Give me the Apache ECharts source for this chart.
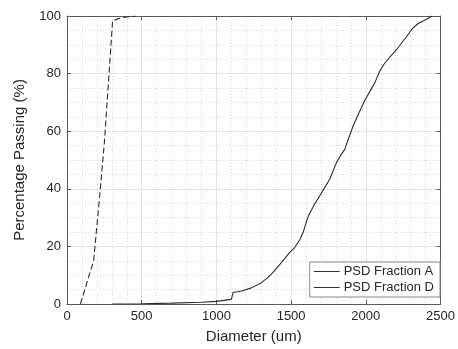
<!DOCTYPE html>
<html>
<head>
<meta charset="utf-8">
<script src="https://cdn.jsdelivr.net/npm/echarts@6/dist/echarts.min.js"></script>
<style>
html,body{margin:0;padding:0;background:#fff;}
#chart{width:458px;height:349px;}
</style>
</head>
<body>
<div id="chart"></div>
<script>
// Fraction A (solid)
var fracA_x = [300, 500, 700, 900, 1000, 1100, 1112, 1170, 1234, 1290, 1340, 1379, 1435, 1491, 1524, 1560, 1580, 1607, 1620, 1655, 1691, 1725, 1758, 1803, 1830, 1858, 1914, 1955, 1995, 2059, 2092, 2126, 2165, 2204, 2270, 2310, 2348, 2400, 2442];
var fracA_y = [0, 0.1, 0.3, 0.6, 0.9, 1.6, 4.0, 4.5, 5.6, 7.0, 9.0, 11.0, 14.4, 17.9, 19.6, 22.5, 24.8, 29.4, 31.1, 34.5, 37.5, 40.5, 43.3, 49.0, 51.5, 53.6, 61.7, 66.5, 70.9, 76.7, 80.7, 83.6, 86.0, 88.2, 92.7, 95.5, 97.3, 98.7, 100];
// Fraction D (dashed)
var fracD_x = [90, 125, 178, 216, 250, 275, 305, 360, 460];
var fracD_y = [0, 6, 15, 36, 56, 75, 98.3, 99.4, 100];

var xTicks = [0, 500, 1000, 1500, 2000, 2500];
var yTicks = [0, 20, 40, 60, 80, 100];

function pairs(xs, ys){ return xs.map(function(x,i){ return [x, ys[i]]; }); }

var FONT = 'Liberation Sans';
var axisCol = '#5a5a5a';
var chart = echarts.init(document.getElementById('chart'));
var baseX = {
  type: 'value', min: xTicks[0], max: xTicks[xTicks.length-1], interval: 500,
  axisLine: {show: true, onZero: false, lineStyle: {color: axisCol, width: 1}},
  axisTick: {show: true, inside: true, length: 4, lineStyle: {color: axisCol}},
  minorTick: {show: false, splitNumber: 5},
  minorSplitLine: {show: true, lineStyle: {color: '#d8d8d8', type: [1, 2], width: 1}},
  splitLine: {show: true, lineStyle: {color: '#e4e4e4', width: 1}}
};
var baseY = {
  type: 'value', min: yTicks[0], max: yTicks[yTicks.length-1], interval: 20,
  axisLine: {show: true, onZero: false, lineStyle: {color: axisCol, width: 1}},
  axisTick: {show: true, inside: true, length: 4, lineStyle: {color: axisCol}},
  minorTick: {show: false, splitNumber: 4},
  minorSplitLine: {show: true, lineStyle: {color: '#d8d8d8', type: [1, 2], width: 1}},
  splitLine: {show: true, lineStyle: {color: '#e4e4e4', width: 1}}
};
chart.setOption({
  animation: false,
  textStyle: {fontFamily: FONT},
  grid: {left: 67, right: 17, top: 16, bottom: 44, containLabel: false},
  xAxis: [
    Object.assign({}, baseX, {
      position: 'bottom',
      name: 'Diameter (um)', nameLocation: 'middle', nameGap: 25,
      nameTextStyle: {fontFamily: FONT, fontSize: 15, color: '#262626'},
      axisLabel: {fontFamily: FONT, fontSize: 13, color: '#262626', margin: 6,
                  formatter: function(v){ return String(v); }}
    }),
    Object.assign({}, baseX, {
      position: 'top', splitLine: {show: false}, minorSplitLine: {show: false},
      axisLabel: {show: false}
    })
  ],
  yAxis: [
    Object.assign({}, baseY, {
      position: 'left',
      name: 'Percentage Passing (%)', nameLocation: 'middle', nameGap: 40,
      nameTextStyle: {fontFamily: FONT, fontSize: 15, color: '#262626'},
      axisLabel: {fontFamily: FONT, fontSize: 13, color: '#262626', margin: 6,
                  formatter: function(v){ return String(v); }}
    }),
    Object.assign({}, baseY, {
      position: 'right', splitLine: {show: false}, minorSplitLine: {show: false},
      axisLabel: {show: false}
    })
  ],
  legend: {
    orient: 'vertical', right: 18, bottom: 52,
    backgroundColor: '#fff', borderColor: '#8a8a8a', borderWidth: 1,
    padding: [3, 6, 3, 4], itemGap: 3, itemWidth: 26, itemHeight: 12,
    icon: 'path://M0,6L26,6L26,7L0,7Z',
    textStyle: {fontFamily: FONT, fontSize: 13, color: '#262626', padding: [0,0,0,-1]},
    data: [
      {name: 'PSD Fraction A', itemStyle: {color: '#333'}, lineStyle: {type: 'solid'}},
      {name: 'PSD Fraction D', itemStyle: {color: '#333'}, lineStyle: {type: 'solid'}}
    ]
  },
  series: [
    {
      name: 'PSD Fraction A', type: 'line', data: pairs(fracA_x, fracA_y),
      showSymbol: false, symbol: 'none',
      lineStyle: {color: '#2b2b2b', width: 1.1, type: 'solid'},
      itemStyle: {color: '#2b2b2b'}
    },
    {
      name: 'PSD Fraction D', type: 'line', data: pairs(fracD_x, fracD_y),
      showSymbol: false, symbol: 'none',
      lineStyle: {color: '#2b2b2b', width: 1.1, type: [6, 3]},
      itemStyle: {color: '#2b2b2b'}
    }
  ]
});
</script>
</body>
</html>
